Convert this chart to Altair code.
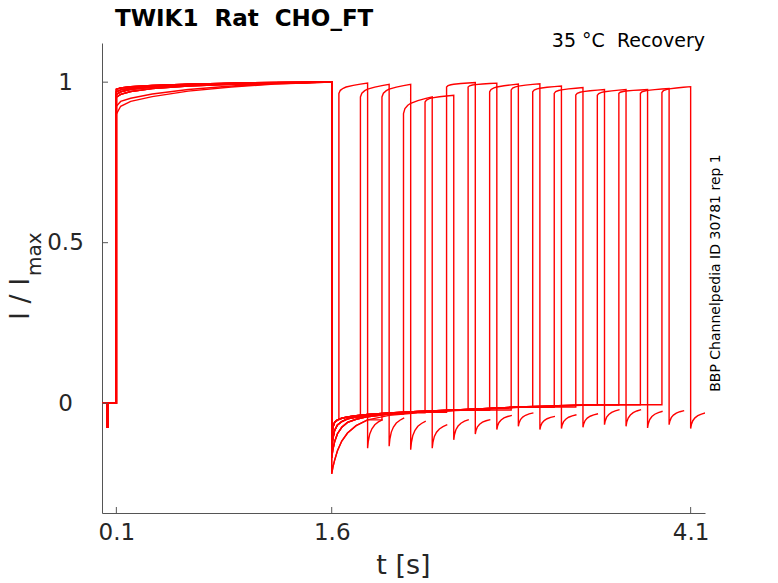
import altair as alt
import pandas as pd

# ---------------- data ----------------
# holding segment before the first step (small capacitive spike)
PRE_T = [0.0, 0.036, 0.036, 0.041, 0.041, 0.1]
PRE_V = [0.0, 0.0, -0.075, -0.075, 0.0, 0.0]

# conditioning step 0.1 s -> 1.6 s
DEP_T = [0.1, 0.13, 0.2, 0.35, 0.6, 0.9, 1.2, 1.6]
DEP_PROFILES = [
    [0.978, 0.982, 0.986, 0.990, 0.994, 0.997, 0.999, 1.0],
    [0.962, 0.970, 0.978, 0.985, 0.991, 0.995, 0.998, 1.0],
    [0.925, 0.940, 0.950, 0.963, 0.977, 0.988, 0.995, 1.0],
    [0.900, 0.925, 0.940, 0.955, 0.972, 0.985, 0.994, 1.0],
    [0.970, 0.976, 0.982, 0.988, 0.993, 0.996, 0.998, 1.0],
    [0.953, 0.962, 0.971, 0.980, 0.988, 0.993, 0.997, 1.0],
]
DEP_IDX = [0, 1, 4, 3, 2, 5, 1, 0, 4, 5, 0, 1, 4, 5, 0, 1]

# recovery interval after 1.6 s (offsets in s from 1.6)
HYP_OFF = [0.0, 0.008, 0.02, 0.04, 0.07, 0.11, 0.17, 0.25, 0.4, 0.6, 0.9, 1.3, 1.8, 2.6]
HYP_PROFILES = [
    [-0.11, -0.075, -0.060, -0.052, -0.047, -0.043, -0.039, -0.035, -0.030, -0.026, -0.020, -0.012, -0.005, 0.000],
    [-0.14, -0.110, -0.085, -0.068, -0.057, -0.049, -0.043, -0.038, -0.032, -0.027, -0.021, -0.013, -0.006, -0.001],
    [-0.17, -0.145, -0.120, -0.095, -0.075, -0.060, -0.050, -0.042, -0.034, -0.028, -0.022, -0.014, -0.007, -0.002],
    [-0.22, -0.200, -0.178, -0.148, -0.118, -0.093, -0.070, -0.052, -0.038, -0.030, -0.023, -0.015, -0.008, -0.003],
]
HYP_IDX = [0, 1, 3, 2, 3, 2, 1, 2, 1, 0, 1, 0, 0, 1, 0, 0]

# test pulses
PULSE_START = [1.65, 1.80, 1.95, 2.10, 2.25, 2.40, 2.55, 2.70,
               2.85, 3.00, 3.15, 3.30, 3.45, 3.60, 3.75, 3.90]
PULSE_LEN = 0.2
PULSE_V0 = [0.965, 0.954, 0.954, 0.902, 0.938, 0.985, 0.985, 0.970,
            0.976, 0.970, 0.965, 0.960, 0.959, 0.965, 0.965, 0.968]
PULSE_V1 = [0.997, 0.993, 0.993, 0.954, 0.959, 0.999, 0.997, 0.994,
            0.995, 0.988, 0.983, 0.977, 0.977, 0.977, 0.980, 0.986]
PULSE_OFF = [0.0, 0.01, 0.03, 0.05, 0.10, 0.15, 0.20]
PULSE_FRAC = [0.0, 0.30, 0.50, 0.62, 0.78, 0.90, 1.0]

# tails after each test pulse
TAIL_OFF = [0.0, 0.005, 0.015, 0.03, 0.05, 0.075, 0.105]
TAIL_FRAC = [0.0, 0.25, 0.50, 0.68, 0.82, 0.92, 1.0]
TAIL_V0 = [-0.140, -0.134, -0.145, -0.140, -0.114, -0.096, -0.082, -0.072,
           -0.082, -0.079, -0.075, -0.067, -0.072, -0.077, -0.067, -0.079]
TAIL_V1 = [-0.051, -0.046, -0.056, -0.067, -0.051, -0.051, -0.038, -0.030,
           -0.041, -0.036, -0.033, -0.020, -0.020, -0.025, -0.023, -0.030]

X_TICKS = [0.1, 1.6, 4.1]
Y_TICKS = [0, 0.5, 1]
X_DOMAIN = [0.0, 4.2]
Y_DOMAIN = [-0.342, 1.122]

NB = "\u00a0"
TITLE = "TWIK1" + NB + " Rat" + NB + " CHO_FT"
SUBTITLE = "35 °C" + NB + " Recovery"
SIDE = "BBP Channelpedia ID 30781 rep 1"

# ---------------- build table ----------------
rows = []
for k in range(len(PULSE_START)):
    pts = []
    pts += list(zip(PRE_T, PRE_V))
    pts += list(zip(DEP_T, DEP_PROFILES[DEP_IDX[k]]))
    tk = PULSE_START[k]
    hyp = HYP_PROFILES[HYP_IDX[k]]
    last = hyp[0]
    for off, v in zip(HYP_OFF, hyp):
        if 1.6 + off < tk:
            pts.append((1.6 + off, v))
            last = v
    pts.append((tk, last))
    v0, v1 = PULSE_V0[k], PULSE_V1[k]
    for off, f in zip(PULSE_OFF, PULSE_FRAC):
        pts.append((tk + off, v0 + (v1 - v0) * f))
    te = tk + PULSE_LEN
    a0, a1 = TAIL_V0[k], TAIL_V1[k]
    for off, f in zip(TAIL_OFF, TAIL_FRAC):
        pts.append((te + off, a0 + (a1 - a0) * f))
    for i, (t, v) in enumerate(pts):
        rows.append({"sweep": k, "i": i, "t": t, "v": v})

df = pd.DataFrame(rows)

W, H = 603, 470
FONT = "DejaVu Sans"
AX = "#555555"
TXT = "#262626"

xs = alt.Scale(domain=X_DOMAIN, nice=False, zero=False)
ys = alt.Scale(domain=Y_DOMAIN, nice=False, zero=False)

lines = alt.Chart(df).mark_line(color="#ff0000", strokeWidth=1.4, clip=True).encode(
    x=alt.X("t:Q", scale=xs, axis=alt.Axis(
        values=X_TICKS, format="~g", ticks=False, tickSize=0, grid=False,
        labelFontSize=23, labelFont=FONT, labelColor=TXT, labelPadding=8,
        labelFlush=False, labelOverlap=False, domainColor=AX, title=None)),
    y=alt.Y("v:Q", scale=ys, axis=alt.Axis(
        values=Y_TICKS, format="~g", ticks=False, tickSize=0, grid=False,
        labelFontSize=23, labelFont=FONT, labelColor=TXT, labelPadding=37,
        labelAlign="center", labelBaseline="middle",
        labelFlush=False, labelOverlap=False, domainColor=AX, title=None)),
    detail="sweep:N",
    order="i:Q",
)

xt = alt.Chart(pd.DataFrame({"t": X_TICKS})).mark_rule(color=AX, strokeWidth=1).encode(
    x=alt.X("t:Q", scale=xs), y=alt.value(H), y2=alt.value(H - 6))
yt = alt.Chart(pd.DataFrame({"v": Y_TICKS})).mark_rule(color=AX, strokeWidth=1).encode(
    y=alt.Y("v:Q", scale=ys), x=alt.value(0), x2=alt.value(6))

def label(text, x, y, size, **kw):
    return alt.Chart(pd.DataFrame({"s": [text]})).mark_text(
        font=FONT, fontSize=size, color=kw.pop("color", "#000000"), **kw
    ).encode(x=alt.value(x), y=alt.value(y), text="s:N")

title = label(TITLE, 13, -17, 23, fontWeight="bold", align="left", baseline="alphabetic")
sub = label(SUBTITLE, W, 4, 19, align="right", baseline="alphabetic")
side = label(SIDE, 618, 230, 14, angle=270, align="center", baseline="alphabetic")
xlab = label("t [s]", W / 2, 531, 27, color=TXT, align="center", baseline="alphabetic")
ylab1 = label("I / I", -73, 277, 27, color=TXT, angle=270, align="left", baseline="alphabetic")
ylab2 = label("max", -61, 233, 20, color=TXT, angle=270, align="left", baseline="alphabetic")

chart = alt.layer(lines, xt, yt, title, sub, side, xlab, ylab1, ylab2).properties(
    width=W, height=H,
    background="white",
    autosize=alt.AutoSizeParams(type="none"),
    padding={"left": 94, "top": 35, "right": 60, "bottom": 70},
).configure_view(stroke=None)

chart.save("out.html", embed_options={"renderer": "svg", "actions": False})
